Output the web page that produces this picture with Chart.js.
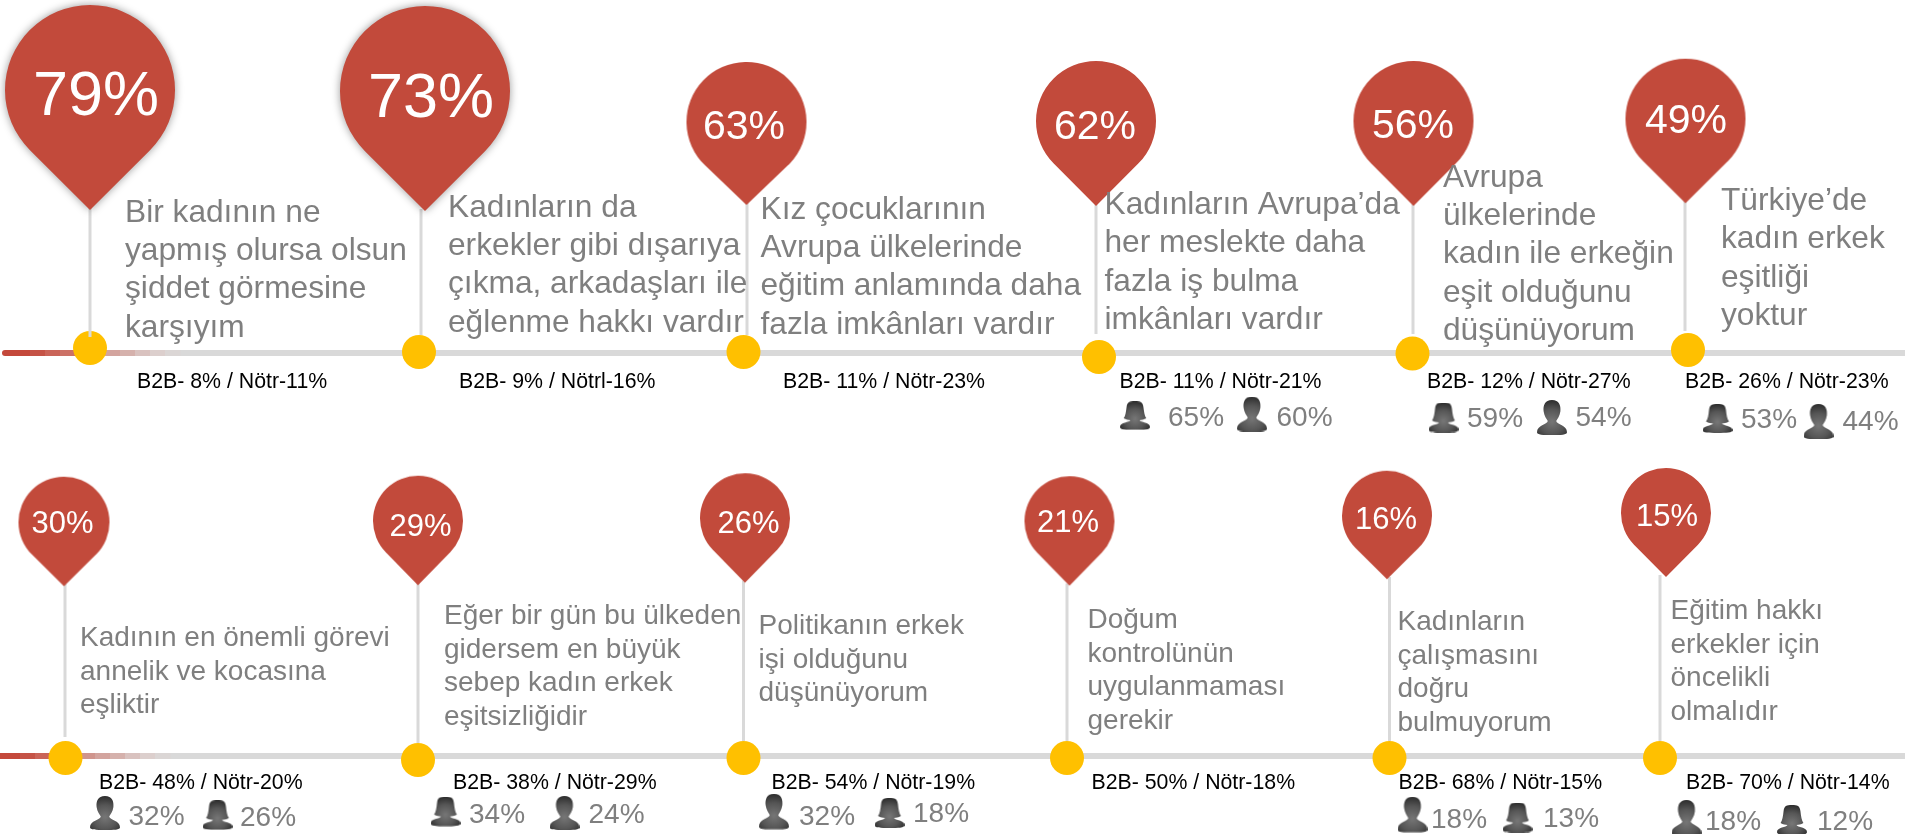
<!DOCTYPE html>
<html lang="tr">
<head>
<meta charset="utf-8">
<title>Kadın erkek eşitliği</title>
<script src="https://cdn.jsdelivr.net/npm/chart.js@4/dist/chart.umd.min.js"></script>
<style>
  html, body { margin: 0; padding: 0; background: #fff; overflow: hidden; }
  canvas { display: block; }
</style>
</head>
<body>
<canvas id="chart" width="1905" height="834"></canvas>
<script>
// values
const agreePct = [79, 73, 63, 62, 56, 49, 30, 29, 26, 21, 16, 15]
const b2bPct = [8, 9, 11, 11, 12, 26, 48, 38, 54, 50, 68, 70]
const neutralPct = [11, 16, 23, 21, 27, 23, 20, 29, 19, 18, 15, 14]
const neutralWords = ["Nötr", "Nötrl", "Nötr", "Nötr", "Nötr", "Nötr", "Nötr", "Nötr", "Nötr", "Nötr", "Nötr", "Nötr"]
const womenPct = [null, null, null, 65, 59, 53, 26, 34, 18, null, 13, 12]
const menPct = [null, null, null, 60, 54, 44, 32, 24, 32, null, 18, 18]
const statements = [
  ["Bir kadının ne", "yapmış olursa olsun", "şiddet görmesine", "karşıyım"],
  ["Kadınların da", "erkekler gibi dışarıya", "çıkma, arkadaşları ile", "eğlenme hakkı vardır"],
  ["Kız çocuklarının", "Avrupa ülkelerinde", "eğitim anlamında daha", "fazla imkânları vardır"],
  ["Kadınların Avrupa’da", "her meslekte daha", "fazla iş bulma", "imkânları vardır"],
  ["Avrupa", "ülkelerinde", "kadın ile erkeğin", "eşit olduğunu", "düşünüyorum"],
  ["Türkiye’de", "kadın erkek", "eşitliği", "yoktur"],
  ["Kadının en önemli görevi", "annelik ve kocasına", "eşliktir"],
  ["Eğer bir gün bu ülkeden", "gidersem en büyük", "sebep kadın erkek", "eşitsizliğidir"],
  ["Politikanın erkek", "işi olduğunu", "düşünüyorum"],
  ["Doğum", "kontrolünün", "uygulanmaması", "gerekir"],
  ["Kadınların", "çalışmasını", "doğru", "bulmuyorum"],
  ["Eğitim hakkı", "erkekler için", "öncelikli", "olmalıdır"]
]

// layout of the slide, in scale units (1 unit = 1 px of the 1905x834 slide)
const pinX = [90, 425, 746.5, 1096, 1413.5, 1685.5, 64, 418, 745, 1069.5, 1387, 1666]
const pinTop = [5, 6, 62, 61, 61, 58.5, 476.5, 475.5, 473, 476, 470.5, 468]
const pinTip = [210, 211, 205, 206, 206, 203, 586, 585, 582.5, 585.5, 579, 577]
const pinRadius = [85, 85, 60, 60, 60, 60, 45.5, 45, 45, 45, 45, 45]
const labelX = [96, 431, 744, 1095, 1413, 1686, 62.5, 420.5, 748.5, 1068, 1386, 1667]
const labelY = [92.5, 94, 124, 124, 123, 118, 521.5, 525, 521.5, 521, 518, 515]
const labelSize = [63, 63, 41, 41, 41, 41, 31, 31, 31, 31, 31, 31]
const stemX = [90, 421, 747, 1096, 1413, 1685, 65, 418, 743.5, 1067, 1389.5, 1660]
const stemEnd = [337, 335, 335, 334, 334, 331, 737, 743, 741, 741, 741, 741]
const dotX = [90, 419, 743.5, 1099, 1412.5, 1688, 65.5, 418, 743.5, 1067, 1389.5, 1660]
const dotY = [348, 352, 352, 357, 353.5, 350, 758, 760, 758, 758, 758, 758]
const textX = [125, 448, 760.5, 1104.5, 1443, 1721, 80, 444, 758.5, 1087.5, 1397.5, 1670.5]
const textY = [221.5, 216.5, 218.5, 214, 186.5, 210, 646, 624, 634, 628, 630, 619]
const b2bX = [137, 459, 783, 1119.5, 1427, 1685, 99, 453, 771.5, 1091.5, 1398.5, 1686]
const trackRows = [
  { y: 353, from: 5, bandStart: 15, cap: "round" },
  { y: 756, from: 0, bandStart: 5, cap: "butt" }
]
const trackBands = ["#c4483b", "#c55346", "#ca6458", "#cc7166", "#cd8379", "#d0958d", "#d3a49e", "#d5b1ac", "#d9c2bf", "#dccfcd", "#dbd6d5"]
const bandWidth = 15
const genderSpots = [
  { i: 3, kind: "f", x: 1135, top: 401.5, bottom: 430, tx: 1168, ty: 426 },
  { i: 3, kind: "m", x: 1252, top: 396.5, bottom: 431.5, tx: 1276.5, ty: 426 },
  { i: 4, kind: "f", x: 1443.5, top: 402.5, bottom: 432.5, tx: 1467, ty: 426.5 },
  { i: 4, kind: "m", x: 1552, top: 400, bottom: 435, tx: 1575.5, ty: 426 },
  { i: 5, kind: "f", x: 1717.5, top: 404, bottom: 433, tx: 1741, ty: 427.5 },
  { i: 5, kind: "m", x: 1818.5, top: 404, bottom: 439, tx: 1842.5, ty: 429.5 },
  { i: 6, kind: "m", x: 105, top: 796, bottom: 830, tx: 128.5, ty: 825 },
  { i: 6, kind: "f", x: 217.5, top: 800.5, bottom: 830, tx: 240, ty: 826 },
  { i: 7, kind: "f", x: 445.5, top: 797, bottom: 826.5, tx: 469, ty: 823 },
  { i: 7, kind: "m", x: 564.5, top: 796, bottom: 830, tx: 588.5, ty: 823 },
  { i: 8, kind: "m", x: 774, top: 794, bottom: 829.5, tx: 799, ty: 825 },
  { i: 8, kind: "f", x: 889.5, top: 798, bottom: 828, tx: 913, ty: 822 },
  { i: 10, kind: "m", x: 1412.5, top: 797, bottom: 832.5, tx: 1431, ty: 827.5 },
  { i: 10, kind: "f", x: 1517.5, top: 802.5, bottom: 832.5, tx: 1543, ty: 826.5 },
  { i: 11, kind: "m", x: 1686.5, top: 800, bottom: 836, tx: 1705, ty: 829.5 },
  { i: 11, kind: "f", x: 1792, top: 805, bottom: 835, tx: 1817, ty: 829.5 }
]

const fontName = '"Liberation Sans", Arial, sans-serif'
const pinColor = "#c24a3b"
const grayText = "#7f7f7f"
const lineGray = "#d9d9d9"

function makePin(r, height, shadow) {
  const margin = shadow ? 16 : 2
  const c = document.createElement("canvas")
  c.width = 2 * r + 2 * margin
  c.height = height + 2 * margin
  const g = c.getContext("2d")
  const cx = c.width / 2
  const cy = margin + r
  const a = Math.acos(r / (height - r))
  if (shadow) {
    g.shadowColor = "rgba(0,0,0,0.4)"
    g.shadowBlur = 9
  }
  g.fillStyle = pinColor
  g.beginPath()
  g.arc(cx, cy, r, Math.PI / 2 + a, Math.PI * 2.5 - a)
  g.lineTo(cx, margin + height)
  g.closePath()
  g.fill()
  return c
}

function makePerson(kind, h) {
  const w = 30
  const c = document.createElement("canvas")
  c.width = w
  c.height = Math.ceil(h)
  const g = c.getContext("2d")
  const X = v => v * w
  const Y = v => v * h
  const curve = (a, b, d, e, f, k) => g.bezierCurveTo(X(a), Y(b), X(d), Y(e), X(f), Y(k))
  const shade = g.createRadialGradient(w / 2, h * 0.62, 1, w / 2, h * 0.62, h * 0.62)
  shade.addColorStop(0, "#747474")
  shade.addColorStop(0.55, "#565656")
  shade.addColorStop(1, "#2c2c2c")
  g.fillStyle = shade
  g.beginPath()
  g.moveTo(X(0.5), 0)
  if (kind === "m") {
    curve(0.74, 0, 0.8, 0.16, 0.78, 0.32)
    curve(0.76, 0.46, 0.68, 0.54, 0.64, 0.6)
    curve(0.66, 0.7, 1, 0.72, 1, 0.92)
    curve(1, 1, 0.8, 1, 0.5, 1)
    curve(0.2, 1, 0, 1, 0, 0.92)
    curve(0, 0.72, 0.34, 0.7, 0.36, 0.6)
    curve(0.32, 0.54, 0.24, 0.46, 0.22, 0.32)
    curve(0.2, 0.16, 0.26, 0, 0.5, 0)
  } else {
    // bob haircut: flat crown, hair flaring out above the shoulders
    curve(0.68, 0, 0.76, 0.03, 0.78, 0.2)
    curve(0.8, 0.38, 0.82, 0.52, 0.88, 0.6)
    curve(0.8, 0.65, 0.72, 0.66, 0.65, 0.67)
    curve(0.68, 0.75, 1, 0.74, 1, 0.9)
    curve(1, 1, 0.8, 1, 0.5, 1)
    curve(0.2, 1, 0, 1, 0, 0.9)
    curve(0, 0.74, 0.32, 0.75, 0.35, 0.67)
    curve(0.28, 0.66, 0.2, 0.65, 0.12, 0.6)
    curve(0.18, 0.52, 0.2, 0.38, 0.22, 0.2)
    curve(0.24, 0.03, 0.32, 0, 0.5, 0)
  }
  g.closePath()
  g.fill()
  return c
}

function trackGradient(chart, row) {
  const x = chart.scales.x
  const from = x.getPixelForValue(row.from)
  const to = x.getPixelForValue(row.bandStart + trackBands.length * bandWidth + 1)
  const grad = chart.ctx.createLinearGradient(from, 0, to, 0)
  const stop = v => (x.getPixelForValue(v) - from) / (to - from)
  trackBands.forEach((color, n) => {
    grad.addColorStop(stop(row.bandStart + n * bandWidth), color)
    grad.addColorStop(stop(row.bandStart + (n + 1) * bandWidth), color)
  })
  grad.addColorStop(1, lineGray)
  return grad
}

const pinImages = agreePct.map((v, i) => makePin(pinRadius[i], pinTip[i] - pinTop[i], pinRadius[i] > 80))
const personImages = genderSpots.map(s => makePerson(s.kind, s.bottom - s.top))

// stems are one line dataset, the null points break it into pieces
const stemPoints = []
agreePct.forEach((v, i) => {
  stemPoints.push({ x: stemX[i], y: pinTip[i] - 2 }, { x: stemX[i], y: stemEnd[i] }, { x: stemX[i], y: null })
})

const trackSets = trackRows.map(row => ({
  type: "line",
  data: [{ x: row.from, y: row.y }, { x: 1905, y: row.y }],
  borderWidth: 6,
  borderCapStyle: row.cap,
  borderColor: c => (c.chart.chartArea ? trackGradient(c.chart, row) : lineGray),
  pointRadius: 0,
  order: 6
}))

const textPlugin = {
  id: "slideText",
  afterDraw(chart) {
    const g = chart.ctx
    const px = v => chart.scales.x.getPixelForValue(v)
    const py = v => chart.scales.y.getPixelForValue(v)
    g.save()
    g.textBaseline = "alphabetic"
    agreePct.forEach((v, i) => {
      g.textAlign = "center"
      g.fillStyle = "#fff"
      g.font = `${labelSize[i]}px ${fontName}`
      g.fillText(`${v}%`, px(labelX[i]), py(labelY[i] + labelSize[i] * 0.358))

      g.textAlign = "left"
      const row2 = i >= 6
      const size = row2 ? 28 : 31.7
      const leading = row2 ? 33.5 : 38.4
      g.fillStyle = grayText
      g.font = `${size}px ${fontName}`
      statements[i].forEach((line, n) => {
        g.fillText(line, px(textX[i]), py(textY[i] + n * leading))
      })

      g.fillStyle = "#000"
      g.font = `21.3px ${fontName}`
      g.fillText(`B2B- ${b2bPct[i]}% / ${neutralWords[i]}-${neutralPct[i]}%`, px(b2bX[i]), py(row2 ? 788.5 : 388))
    })
    g.fillStyle = grayText
    g.font = `28px ${fontName}`
    genderSpots.forEach(s => {
      const v = s.kind === "f" ? womenPct[s.i] : menPct[s.i]
      g.fillText(`${v}%`, px(s.tx), py(s.ty))
    })
    g.restore()
  }
}

new Chart(document.getElementById("chart"), {
  type: "scatter",
  data: {
    datasets: [
      ...trackSets,
      {
        type: "line",
        data: agreePct.map((v, i) => ({ x: dotX[i], y: dotY[i] })),
        showLine: false,
        pointRadius: 17,
        pointBackgroundColor: "#ffc000",
        pointBorderWidth: 0,
        order: 5
      },
      {
        type: "line",
        data: stemPoints,
        spanGaps: false,
        borderColor: lineGray,
        borderWidth: 3,
        pointRadius: 0,
        order: 4
      },
      {
        data: agreePct.map((v, i) => ({ x: pinX[i], y: (pinTop[i] + pinTip[i]) / 2 })),
        pointStyle: pinImages,
        pointRadius: 5,
        order: 3
      },
      {
        data: genderSpots.map(s => ({ x: s.x, y: (s.top + s.bottom) / 2 })),
        pointStyle: personImages,
        pointRadius: 5,
        order: 2
      }
    ]
  },
  options: {
    responsive: false,
    animation: false,
    layout: { padding: 0, autoPadding: false },
    clip: false,
    plugins: {
      legend: { display: false },
      tooltip: { enabled: false }
    },
    scales: {
      x: { type: "linear", display: false, min: 0, max: 1905 },
      y: { type: "linear", display: false, min: 0, max: 834, reverse: true }
    }
  },
  plugins: [textPlugin]
})
</script>
</body>
</html>
